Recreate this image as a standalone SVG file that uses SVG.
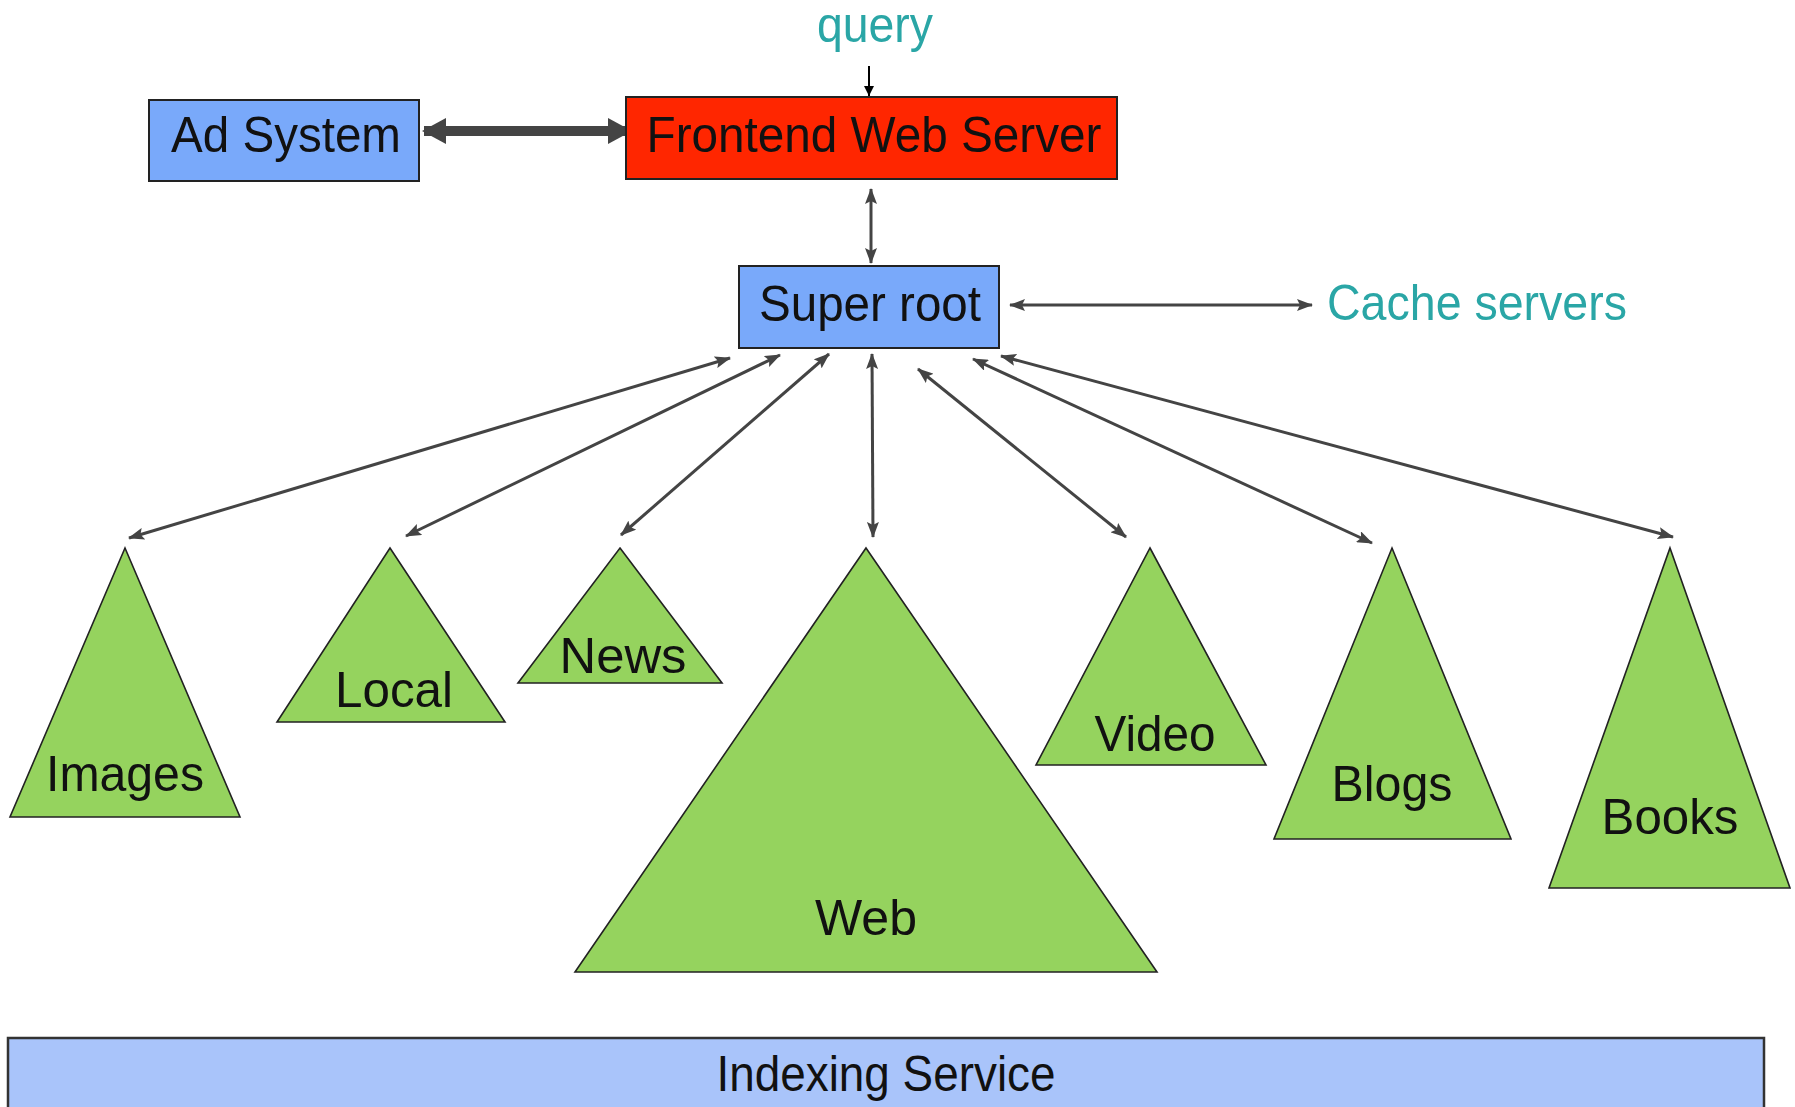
<svg xmlns="http://www.w3.org/2000/svg" width="1795" height="1107" viewBox="0 0 1795 1107">
<style>
.box{stroke:#222;stroke-width:2}
.blue{fill:#79a9fa}
.red{fill:#ff2600}
.tri{fill:#95d35e;stroke:#222;stroke-width:1.6;stroke-linejoin:miter}
.lbl{font-family:"Liberation Sans",Arial,sans-serif;font-size:50px;fill:#111}
.teal{font-family:"Liberation Sans",Arial,sans-serif;font-size:50px;fill:#2aa6a6}
.conn{stroke:#444;stroke-width:3;fill:none;marker-start:url(#ah);marker-end:url(#ah)}
</style>
<defs>
<marker id="ah" markerUnits="userSpaceOnUse" markerWidth="16" markerHeight="12" refX="15" refY="6" orient="auto-start-reverse">
<path d="M0,0 L16,6 L0,12 L3,6 z" fill="#444"/>
</marker>
<marker id="big" markerUnits="userSpaceOnUse" markerWidth="24" markerHeight="26" refX="22" refY="13" orient="auto-start-reverse">
<path d="M0,0 L24,13 L0,26 z" fill="#444"/>
</marker>
<marker id="qa" markerUnits="userSpaceOnUse" markerWidth="10" markerHeight="10" refX="10" refY="5" orient="auto">
<path d="M0,0 L10,5 L0,10 z" fill="#000"/>
</marker>
</defs>
<rect width="1795" height="1107" fill="#fff"/>

<g id="connectors">
<line x1="869" y1="66" x2="869" y2="96" stroke="#000" stroke-width="2" marker-end="url(#qa)"/>
<line x1="424" y1="131" x2="630" y2="131" stroke="#444" stroke-width="10" marker-start="url(#big)" marker-end="url(#big)"/>
<line class="conn" x1="871" y1="189" x2="871" y2="263"/>
<line class="conn" x1="1010" y1="305" x2="1312" y2="305"/>
<line class="conn" x1="730" y1="358" x2="129" y2="538"/>
<line class="conn" x1="780" y1="355" x2="406" y2="536"/>
<line class="conn" x1="829" y1="354" x2="621" y2="535"/>
<line class="conn" x1="872" y1="354" x2="873" y2="537"/>
<line class="conn" x1="918" y1="369" x2="1126" y2="537"/>
<line class="conn" x1="973" y1="359" x2="1372" y2="543"/>
<line class="conn" x1="1001" y1="356" x2="1673" y2="537"/>
</g>

<g id="query">
<text class="teal" x="875" y="42" text-anchor="middle" textLength="116" lengthAdjust="spacingAndGlyphs" font-size="40">query</text>
</g>

<g id="ad-system">
<rect class="box blue" x="149" y="100" width="270" height="81"/>
<text class="lbl" x="286" y="152" text-anchor="middle" textLength="230" lengthAdjust="spacingAndGlyphs">Ad System</text>
</g>

<g id="frontend">
<rect class="box red" x="626" y="97" width="491" height="82"/>
<text class="lbl" x="874" y="152" text-anchor="middle" textLength="455" lengthAdjust="spacingAndGlyphs">Frontend Web Server</text>
</g>

<g id="super-root">
<rect class="box blue" x="739" y="266" width="260" height="82"/>
<text class="lbl" x="870" y="321" text-anchor="middle" textLength="222" lengthAdjust="spacingAndGlyphs">Super root</text>
</g>

<g id="cache-servers">
<text class="teal" x="1477" y="320" text-anchor="middle" textLength="300" lengthAdjust="spacingAndGlyphs">Cache servers</text>
</g>

<g id="images">
<polygon class="tri" points="125,548 240,817 10,817"/>
<text class="lbl" x="125" y="791" text-anchor="middle" textLength="158" lengthAdjust="spacingAndGlyphs">Images</text>
</g>
<g id="local">
<polygon class="tri" points="390,548 505,722 277,722"/>
<text class="lbl" x="394" y="707" text-anchor="middle" textLength="118" lengthAdjust="spacingAndGlyphs">Local</text>
</g>
<g id="news">
<polygon class="tri" points="620,548 722,683 518,683"/>
<text class="lbl" x="623" y="673" text-anchor="middle" textLength="127" lengthAdjust="spacingAndGlyphs">News</text>
</g>
<g id="web">
<polygon class="tri" points="866,548 1157,972 575,972"/>
<text class="lbl" x="866" y="935" text-anchor="middle" textLength="102" lengthAdjust="spacingAndGlyphs">Web</text>
</g>
<g id="video">
<polygon class="tri" points="1150,548 1266,765 1036,765"/>
<text class="lbl" x="1155" y="751" text-anchor="middle" textLength="121" lengthAdjust="spacingAndGlyphs">Video</text>
</g>
<g id="blogs">
<polygon class="tri" points="1392,548 1511,839 1274,839"/>
<text class="lbl" x="1392" y="801" text-anchor="middle" textLength="121" lengthAdjust="spacingAndGlyphs">Blogs</text>
</g>
<g id="books">
<polygon class="tri" points="1670,548 1790,888 1549,888"/>
<text class="lbl" x="1670" y="834" text-anchor="middle" textLength="137" lengthAdjust="spacingAndGlyphs">Books</text>
</g>

<g id="indexing-service">
<rect x="8" y="1038" width="1756" height="90" fill="#a9c4fa" stroke="#333" stroke-width="2.5"/>
<text class="lbl" x="886" y="1091" text-anchor="middle" font-size="44" textLength="339" lengthAdjust="spacingAndGlyphs">Indexing Service</text>
</g>
</svg>
